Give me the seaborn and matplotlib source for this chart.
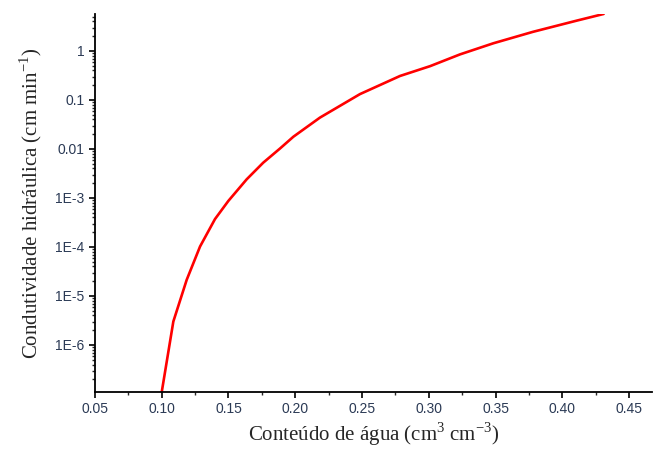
import matplotlib
matplotlib.use('Agg')
import matplotlib.pyplot as plt
import matplotlib.ticker as mticker
import seaborn as sns
import numpy as np
import pandas as pd

# water content (cm3 cm-3) and hydraulic conductivity (cm min-1)
theta = [0.100, 0.1087, 0.1187, 0.1287, 0.1399, 0.1499, 0.1636, 0.176, 0.1886,
         0.1986, 0.2185, 0.2485, 0.2785, 0.301, 0.3234, 0.3484, 0.378,
         0.411, 0.431]
log_k = [-6.96, -5.52, -4.67, -3.99, -3.43, -3.06, -2.62, -2.28, -1.99,
         -1.75, -1.36, -0.88, -0.51, -0.31, -0.07, 0.157, 0.39,
         0.62, 0.755]
k = [10 ** v for v in log_k]

y_ticks = [1e-6, 1e-5, 1e-4, 1e-3, 0.01, 0.1, 1]
y_tick_labels = ['1E-6', '1E-5', '1E-4', '1E-3', '0.01', '0.1', '1']
x_ticks = [0.05, 0.10, 0.15, 0.20, 0.25, 0.30, 0.35, 0.40, 0.45]

df = pd.DataFrame({'theta': theta, 'k': k})

sns.set_style('ticks')
plt.rcParams['font.family'] = ['Liberation Sans', 'DejaVu Sans']
plt.rcParams['mathtext.fontset'] = 'custom'
plt.rcParams['mathtext.rm'] = 'Liberation Serif'

fig = plt.figure(figsize=(6.55, 4.49), dpi=100)
ax = fig.add_axes([0.145, 0.127, 0.85, 0.842])

sns.lineplot(data=df, x='theta', y='k', sort=False, color='#ff0000',
             linewidth=1.9, ax=ax)

ax.set_yscale('log')
ax.set_xlim(0.05, 0.467)
ax.set_ylim(1.1e-7, 5.7)

ax.set_yticks(y_ticks)
ax.set_yticklabels(y_tick_labels)
ax.yaxis.set_minor_locator(mticker.LogLocator(base=10, subs=np.arange(2, 10)))
ax.yaxis.set_minor_formatter(mticker.NullFormatter())
ax.set_xticks(x_ticks)
ax.set_xticklabels(['%.2f' % v for v in x_ticks])
ax.xaxis.set_minor_locator(mticker.MultipleLocator(0.025))

ax.tick_params(axis='both', which='major', direction='out', length=4, width=1.2,
               labelsize=10, colors='black', labelcolor='#2b3a55')
ax.tick_params(axis='both', which='minor', direction='out', length=2.5, width=1)

for side in ['top', 'right']:
    ax.spines[side].set_visible(False)
for side in ['left', 'bottom']:
    ax.spines[side].set_linewidth(1.3)
    ax.spines[side].set_color('black')

ax.set_xlabel('Conteúdo de água (cm$^{3}$ cm$^{-3}$)', family='Liberation Serif',
              fontsize=15, labelpad=3)
ax.set_ylabel('Condutividade hidráulica (cm min$^{-1}$)', family='Liberation Serif',
              fontsize=15, labelpad=8)

fig.savefig('out.png', dpi=100)
